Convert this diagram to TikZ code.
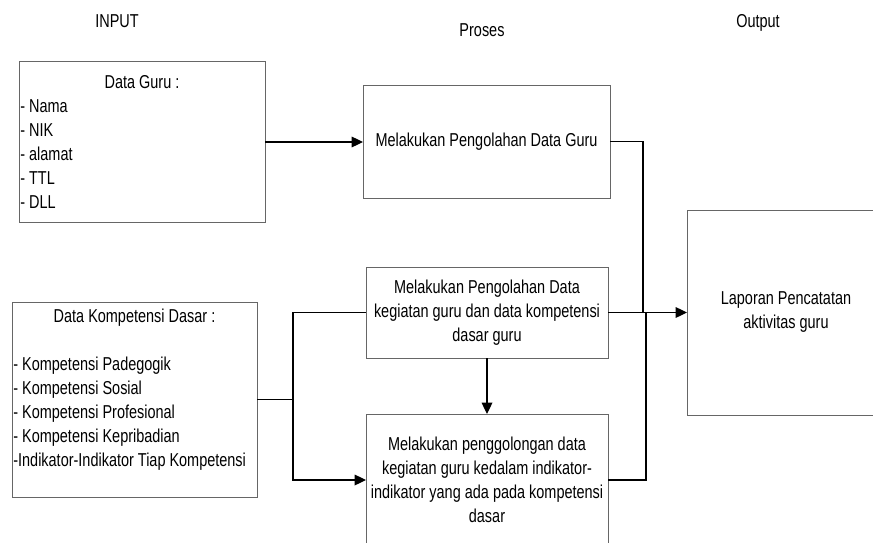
\documentclass[tikz,border=0pt]{standalone}
\usepackage{fontspec}
\setmainfont[FakeStretch=0.775]{Liberation Sans}
\usepackage{tikz}
\usetikzlibrary{arrows.meta}

\begin{document}
\begin{tikzpicture}[x=0.75pt,y=-0.75pt,
      font=\fontsize{14}{18}\selectfont,
      box/.style={draw=black!60,line width=0.75pt,inner sep=0pt,outer sep=0pt},
      inbox/.style={box,inner xsep=1pt,align=flush left},
      pbox/.style={box,align=center},
      conn/.style={line width=0.9pt},
      trans/.style={->,>={Triangle[length=8.5pt,width=8pt]},line width=0.9pt},
      ]
      \useasboundingbox (0,0) rectangle (873,542);
      % headings
      \node (hin) at (117,28) [anchor=base] {INPUT};
      \node (hpr) at (482,36.5) [anchor=base] {Proses};
      \node (hout) at (758,28) [anchor=base] {Output};

      \node (dg) at (142,142) [inbox,minimum width=184.5pt,minimum height=120pt,text width=182.5pt]
        {\makebox[\hsize]{Data Guru :}\\- Nama\\- NIK\\- alamat\\- TTL\\- DLL};
      \node (kd) at (134.5,399.5) [inbox,minimum width=183.75pt,minimum height=146.25pt,text width=181.75pt]
        {\makebox[\hsize]{Data Kompetensi Dasar :}\\ \mbox{}\\- Kompetensi Padegogik\\- Kompetensi Sosial\\
         - Kompetensi Profesional\\- Kompetensi Kepribadian\\\mbox{-Indikator-Indikator Tiap Kompetensi}\\ \mbox{}};

      \node (p1) at (486.5,141.5) [pbox,minimum width=185.25pt,minimum height=84.75pt] {Melakukan Pengolahan Data Guru};
      \node (p2) at (487,312.5) [pbox,minimum width=181.5pt,minimum height=68.25pt]
        {Melakukan Pengolahan Data\\kegiatan guru dan data kompetensi\\dasar guru};
      \node (p3) at (487,480) [pbox,minimum width=181.5pt,minimum height=99pt]
        {Melakukan penggolongan data\\kegiatan guru kedalam indikator-\\indikator yang ada pada kompetensi\\dasar};
      \node (out) at (786,312.5) [pbox,minimum width=148.5pt,minimum height=153.75pt] {Laporan Pencatatan\\aktivitas guru};

      \coordinate (jr) at (643,312.5);
      \coordinate (jr2) at (646,312.5);
      \coordinate (jl) at (293,399.5);

      \draw [trans] (dg.east) -- (dg.east -| p1.west);
      \draw [conn] (p1.east) -| (jr);
      \draw [conn] (p3.east) -| (jr2);
      \draw [trans] (p2.east) -- (out.west);
      \draw [conn] (kd.east) -- (jl);
      \draw [conn] (jl) |- (p2.west);
      \draw [trans] (jl) |- (p3.west);
      \draw [trans] (p2.south) -- (p3.north);
\end{tikzpicture}
\end{document}
